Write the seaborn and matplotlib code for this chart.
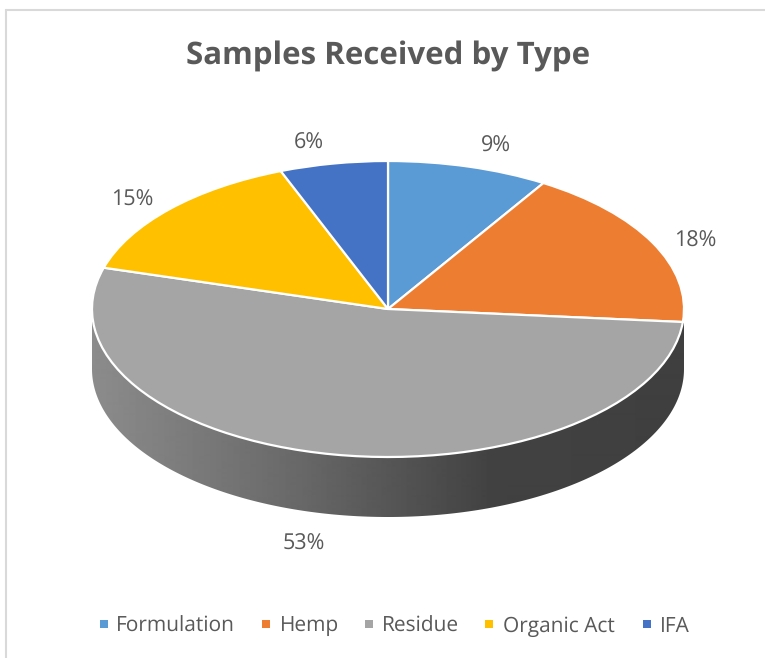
import numpy as np
import matplotlib
matplotlib.use("Agg")
import matplotlib.pyplot as plt
from matplotlib.lines import Line2D
from matplotlib.patches import Rectangle
from matplotlib.path import Path
import seaborn as sns

categories = ["Formulation", "Hemp", "Residue", "Organic Act", "IFA"]
shares = [8.8, 17.6, 53.1, 14.6, 5.9]
colors = ["#5B9BD5", "#ED7D31", "#A5A5A5", "#FFC000", "#4472C4"]
title = "Samples Received by Type"

W, H = 765, 658
CX, CY, RX, RY, DEPTH = 388, 309, 296, 148, 60
label_px = [(495.5, 146), (695, 241), (303.5, 544), (132, 200), (309, 143)]
legend_swatch_px = [100, 262, 365, 485, 643]
legend_text_px = [116, 280, 382, 503, 660]
TEXT = "#595959"

sns.set_theme(style="white", palette=colors)
plt.rcParams["font.family"] = ["Open Sans", "DejaVu Sans"]
plt.rcParams["text.hinting"] = "none"


def dx(px):
    return (px - CX) / RX


def dy(py):
    return (CY - py) / RY


fig = plt.figure(figsize=(W / 100, H / 100), dpi=100, facecolor="white")
ax = fig.add_axes([0, 0, 1, 1])

wedges, _ = ax.pie(
    shares,
    colors=sns.color_palette(colors),
    startangle=90,
    counterclock=False,
    radius=1,
    wedgeprops=dict(edgecolor="white", linewidth=1.6),
)
ax.set_aspect("auto")

# extruded side of the disc, shaded left to right
theta = np.linspace(np.pi, 2 * np.pi, 200)
d = DEPTH / RY
rim_top = dy(CY + 13)
verts = np.vstack(
    [[(-1, rim_top)], np.column_stack([np.cos(theta), np.sin(theta) - d]), [(1, rim_top)], [(-1, rim_top)]]
)
side_path = Path(verts, closed=True)
xs_px = np.arange(W)
shade = np.interp(xs_px, [92, 300, 490, 684], [0x8C, 0x68, 0x42, 0x3F]) / 255
img = ax.imshow(
    shade[np.newaxis, :],
    cmap="gray",
    vmin=0,
    vmax=1,
    extent=(dx(0), dx(W), dy(H), dy(0)),
    aspect="auto",
    zorder=0,
    interpolation="bilinear",
)
img.set_clip_path(side_path, transform=ax.transData)

ax.set_xlim(dx(0), dx(W))
ax.set_ylim(dy(H), dy(0))
ax.axis("off")

for v, (px, py) in zip(shares, label_px):
    ax.text(dx(px), dy(py), f"{v:.0f}%", ha="center", va="center", fontsize=15.5, color=TEXT)

fig.text(388.5 / W, 1 - 57 / H, title, ha="center", va="center", fontsize=22.5, fontweight="bold", color=TEXT)

# legend row: square swatch + label on one shared baseline
for name, color, sx, tx in zip(categories, colors, legend_swatch_px, legend_text_px):
    fig.add_artist(
        Rectangle((sx / W, 1 - 627.5 / H), 8 / W, 8 / H, facecolor=color, edgecolor="none", transform=fig.transFigure)
    )
    fig.text(tx / W, 1 - 632 / H, name, ha="left", va="baseline", fontsize=15, color=TEXT)

frame = "#D9D9D9"
fig.add_artist(Line2D([6.5 / W, 6.5 / W], [0, 1 - 10 / H], color=frame, lw=1.5, transform=fig.transFigure))
fig.add_artist(Line2D([6.5 / W, 1], [1 - 10 / H, 1 - 10 / H], color=frame, lw=1.5, transform=fig.transFigure))

fig.savefig("out.png", dpi=100, facecolor="white")
